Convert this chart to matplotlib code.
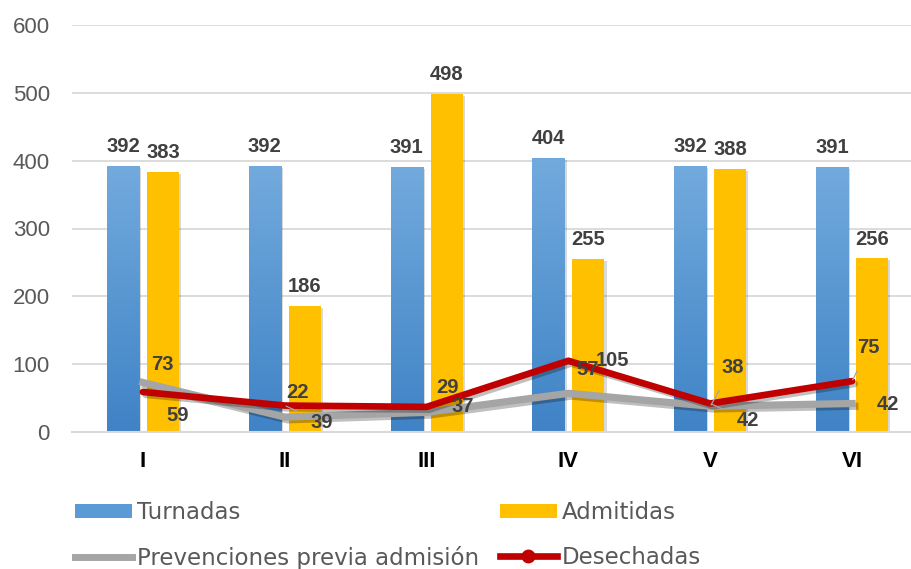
import matplotlib
matplotlib.use('Agg')
import matplotlib.pyplot as plt
import numpy as np
from matplotlib import patheffects as pe
from matplotlib.colors import LinearSegmentedColormap
from matplotlib.lines import Line2D
from matplotlib.patches import Patch

categories = ['I', 'II', 'III', 'IV', 'V', 'VI']
turnadas = [392, 392, 391, 404, 392, 391]
admitidas = [383, 186, 498, 255, 388, 256]
prevenciones = [73, 22, 29, 57, 38, 42]
desechadas = [59, 39, 37, 105, 42, 75]
yticks = [0, 100, 200, 300, 400, 500, 600]

# label offsets (points) for line data labels
prev_off = [(14, 13), (9, 18), (15, 18), (14, 17), (16, 28), (26, -1)]
des_off = [(25, -17), (27, -12), (26, 0), (32, 0), (27, -12), (12, 24)]
prev_leader = [False, False, False, False, True, False]
des_leader = [False, True, False, False, True, True]

plt.rcParams['font.family'] = ['Liberation Sans', 'DejaVu Sans']

fig = plt.figure(figsize=(9.12, 5.69), dpi=100)
ax = fig.add_axes([72 / 912, 1 - 432 / 569, 851 / 912, (432 - 25) / 569])
x = np.arange(len(categories))
w = 0.226
off = 0.141

shadow = [pe.SimplePatchShadow(offset=(1.5, -1.5), shadow_rgbFace='#000000', alpha=0.15), pe.Normal()]
blue_bars = ax.bar(x - off, turnadas, w, color='#5B9BD5', zorder=2, path_effects=shadow)
yel_bars = ax.bar(x + off, admitidas, w, color='#FFC000', zorder=2, path_effects=shadow)

cmap = LinearSegmentedColormap.from_list('b', ['#3F83C6', '#72AADD'])
grad = np.linspace(0, 1, 256).reshape(-1, 1)
for b in blue_bars:
    x0 = b.get_x()
    h = b.get_height()
    im = ax.imshow(grad, cmap=cmap, extent=[x0, x0 + b.get_width(), 0, h],
                   origin='lower', aspect='auto', zorder=2.1, interpolation='bilinear')
    im.set_clip_path(b)

lshadow = [pe.SimpleLineShadow(offset=(2, -2), alpha=0.25), pe.Normal()]
ax.plot(x, prevenciones, color='#A5A5A5', lw=5.2, zorder=3, solid_joinstyle='miter',
        path_effects=lshadow)
ax.plot(x, desechadas, color='#C00000', lw=4.8, zorder=4,
        solid_joinstyle='round', solid_capstyle='round', path_effects=lshadow)

lab_color = '#404040'
for i in range(len(x)):
    ax.annotate(str(turnadas[i]), (x[i] - off, turnadas[i]), xytext=(0, 7),
                textcoords='offset points', ha='center', va='bottom',
                fontsize=14.5, fontweight='bold', color=lab_color, zorder=6)
    ax.annotate(str(admitidas[i]), (x[i] + off, admitidas[i]), xytext=(0, 7),
                textcoords='offset points', ha='center', va='bottom',
                fontsize=14.5, fontweight='bold', color=lab_color, zorder=6)

for vals, offs, leads in [(prevenciones, prev_off, prev_leader), (desechadas, des_off, des_leader)]:
    for i in range(len(x)):
        ap = None
        if leads[i]:
            ap = dict(arrowstyle='-', color='#A6A6A6', lw=0.9, shrinkA=9, shrinkB=1)
        ax.annotate(str(vals[i]), (x[i], vals[i]), xytext=offs[i],
                    textcoords='offset points', ha='center', va='center',
                    fontsize=14.5, fontweight='bold', color=lab_color, zorder=6,
                    arrowprops=ap)

ax.set_xlim(-0.5, 5.5)
ax.set_ylim(0, 600)
ax.set_yticks(yticks)
ax.set_xticks(x)
ax.set_xticklabels(categories)
ax.yaxis.grid(True, color='#D9D9D9', lw=1.3)
ax.set_axisbelow(True)
for s in ['top', 'right', 'left']:
    ax.spines[s].set_visible(False)
ax.spines['bottom'].set_color('#D9D9D9')
ax.spines['bottom'].set_linewidth(1.5)
ax.tick_params(axis='y', length=0, pad=16, labelsize=16, labelcolor='#595959')
ax.tick_params(axis='x', length=0, pad=14, labelsize=16, labelcolor='#000000')
for t in ax.get_xticklabels():
    t.set_fontweight('bold')

handles = [
    Patch(facecolor='#5B9BD5', label='Turnadas'),
    Line2D([], [], color='#A5A5A5', lw=5, label='Prevenciones previa admisión'),
    Patch(facecolor='#FFC000', label='Admitidas'),
    Line2D([], [], color='#C00000', lw=4.8, marker='o', ms=9, label='Desechadas'),
]
fig.legend(handles=handles, ncol=2, loc='upper left', bbox_to_anchor=(75 / 912, 1 - 501 / 569),
           frameon=False, prop={'family': 'DejaVu Sans', 'size': 16.5}, labelcolor='#595959',
           handlelength=2.5, handletextpad=0.2, columnspacing=0.9, borderpad=0,
           borderaxespad=0, labelspacing=0.95, handleheight=0.6)

fig.savefig('out.png', dpi=100)
